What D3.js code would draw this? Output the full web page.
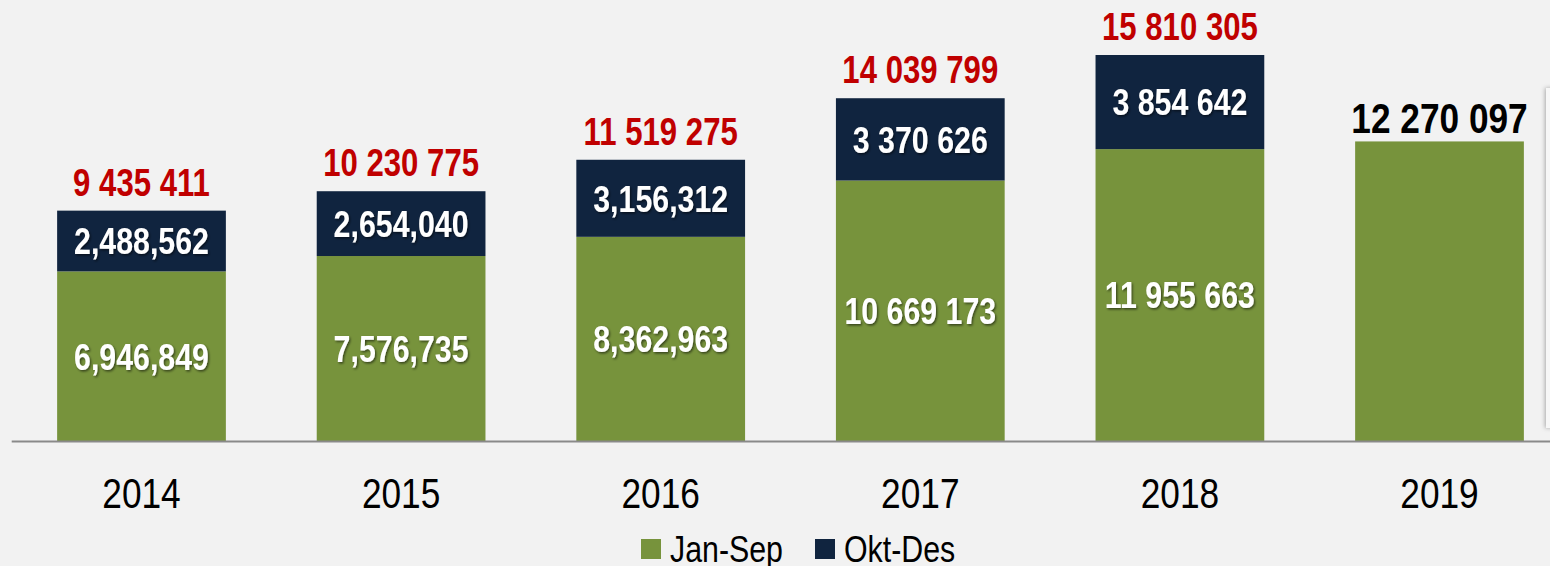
<!DOCTYPE html>
<html>
<head>
<meta charset="utf-8">
<script src="https://cdnjs.cloudflare.com/ajax/libs/d3/7.8.5/d3.min.js"></script>
<style>
  html, body { margin: 0; padding: 0; background: #f2f2f2; overflow: hidden; }
  svg text { font-family: "Liberation Sans", Arial, sans-serif; }
</style>
</head>
<body>
<div id="chart"></div>
<script>
// Data
const years = ['2014', '2015', '2016', '2017', '2018', '2019']
const janSep = [6946849, 7576735, 8362963, 10669173, 11955663, 12270097]
const oktDes = [2488562, 2654040, 3156312, 3370626, 3854642, 0]
// how the numbers were written on the original slide
const numberStyle = ['comma', 'comma', 'comma', 'space', 'space', 'space']
const seriesNames = ['Jan-Sep', 'Okt-Des']

const colors = { janSep: '#77933c', oktDes: '#10243f', total: '#c00000' }

const width = 1550
const height = 566
const baseline = 441
// no narrow font installed, so squeeze text horizontally
const narrow = 0.82

const svg = d3.select('#chart')
  .append('svg')
  .attr('width', width)
  .attr('height', height)

const defs = svg.append('defs')
const shadow = defs.append('filter').attr('id', 'txtShadow')
  .attr('x', '-10%').attr('y', '-20%').attr('width', '120%').attr('height', '150%')
shadow.append('feDropShadow')
  .attr('dx', 1.5).attr('dy', 1.5).attr('stdDeviation', 1)
  .attr('flood-color', '#000').attr('flood-opacity', 0.55)
const boxShadow = defs.append('filter').attr('id', 'boxShadow')
  .attr('x', '-100%').attr('y', '-10%').attr('width', '300%').attr('height', '120%')
boxShadow.append('feDropShadow')
  .attr('dx', -1).attr('dy', 0).attr('stdDeviation', 2)
  .attr('flood-color', '#000').attr('flood-opacity', 0.3)

// Scales
const x = d3.scaleBand()
  .domain(years)
  .range([11.7, 11.7 + 259.6 * years.length])
  .paddingInner(0.35)
  .paddingOuter(0.175)

const y = d3.scaleLinear()
  .domain([0, 15810305])
  .range([baseline, 55])

const fmt = (v, i) => {
  const s = d3.format(',')(v)
  return numberStyle[i] === 'space' ? s.replace(/,/g, ' ') : s
}

const data = years.map((yr, i) => ({
  year: yr,
  a: janSep[i],
  b: oktDes[i],
  total: janSep[i] + oktDes[i],
  i: i
}))

const cx = d => x(d.year) + x.bandwidth() / 2
const place = (px, py) => `translate(${px}, ${py}) scale(${narrow}, 1)`

// edge of the panel peeking in on the right
svg.append('rect')
  .attr('x', 1546).attr('y', 88).attr('width', 20).attr('height', 340)
  .attr('fill', '#f7f7f7')
  .attr('filter', 'url(#boxShadow)')

// Jan-Sep bars
svg.selectAll('.bar-a')
  .data(data)
  .enter().append('rect')
  .attr('class', 'bar-a')
  .attr('x', d => x(d.year))
  .attr('width', x.bandwidth())
  .attr('y', d => y(d.a))
  .attr('height', d => y(0) - y(d.a))
  .attr('fill', colors.janSep)

// Okt-Des bars
svg.selectAll('.bar-b')
  .data(data.filter(d => d.b > 0))
  .enter().append('rect')
  .attr('class', 'bar-b')
  .attr('x', d => x(d.year))
  .attr('width', x.bandwidth())
  .attr('y', d => y(d.total))
  .attr('height', d => y(d.a) - y(d.total))
  .attr('fill', colors.oktDes)

// Baseline
svg.append('line')
  .attr('x1', x.range()[0]).attr('x2', width)
  .attr('y1', baseline + 0.5).attr('y2', baseline + 0.5)
  .attr('stroke', '#8a8a8a').attr('stroke-width', 2)

// Inner labels
svg.selectAll('.lbl-a')
  .data(data.filter(d => d.b > 0))
  .enter().append('text')
  .attr('transform', d => place(cx(d), (y(d.a) + y(0)) / 2))
  .attr('dy', '0.36em')
  .attr('text-anchor', 'middle')
  .attr('fill', '#fff')
  .attr('font-weight', 'bold')
  .attr('font-size', 37)
  .attr('filter', 'url(#txtShadow)')
  .text(d => fmt(d.a, d.i))

svg.selectAll('.lbl-b')
  .data(data.filter(d => d.b > 0))
  .enter().append('text')
  .attr('transform', d => place(cx(d), (y(d.a) + y(d.total)) / 2))
  .attr('dy', '0.36em')
  .attr('text-anchor', 'middle')
  .attr('fill', '#fff')
  .attr('font-weight', 'bold')
  .attr('font-size', 37)
  .attr('filter', 'url(#txtShadow)')
  .text(d => fmt(d.b, d.i))

// Totals on top
svg.selectAll('.lbl-total')
  .data(data)
  .enter().append('text')
  .attr('transform', d => place(cx(d), y(d.total) - (d.b > 0 ? 15 : 8)))
  .attr('text-anchor', 'middle')
  .attr('fill', d => d.b > 0 ? colors.total : '#000')
  .attr('font-weight', 'bold')
  .attr('font-size', d => d.b > 0 ? 38 : 43)
  .text(d => d3.format(',')(d.total).replace(/,/g, ' '))

// X axis labels
const xAxis = svg.append('g')
  .attr('transform', `translate(0, ${baseline})`)
  .call(d3.axisBottom(x).tickSize(0).tickPadding(0))
xAxis.select('.domain').remove()
xAxis.selectAll('text')
  .attr('y', 67)
  .attr('dy', 0)
  .attr('transform', `scale(${narrow}, 1)`)
  .attr('font-size', 43)
  .attr('fill', '#000')
  .attr('font-family', '"Liberation Sans", Arial, sans-serif')

// Legend
const legendItems = [
  { name: seriesNames[0], color: colors.janSep, x: 641 },
  { name: seriesNames[1], color: colors.oktDes, x: 815 }
]
const legend = svg.selectAll('.legend')
  .data(legendItems)
  .enter().append('g')
  .attr('transform', d => `translate(${d.x}, 539)`)
legend.append('rect')
  .attr('width', 20).attr('height', 20)
  .attr('fill', d => d.color)
legend.append('text')
  .attr('transform', place(29, 23))
  .attr('font-size', 37)
  .attr('fill', '#000')
  .text(d => d.name)
</script>
</body>
</html>
